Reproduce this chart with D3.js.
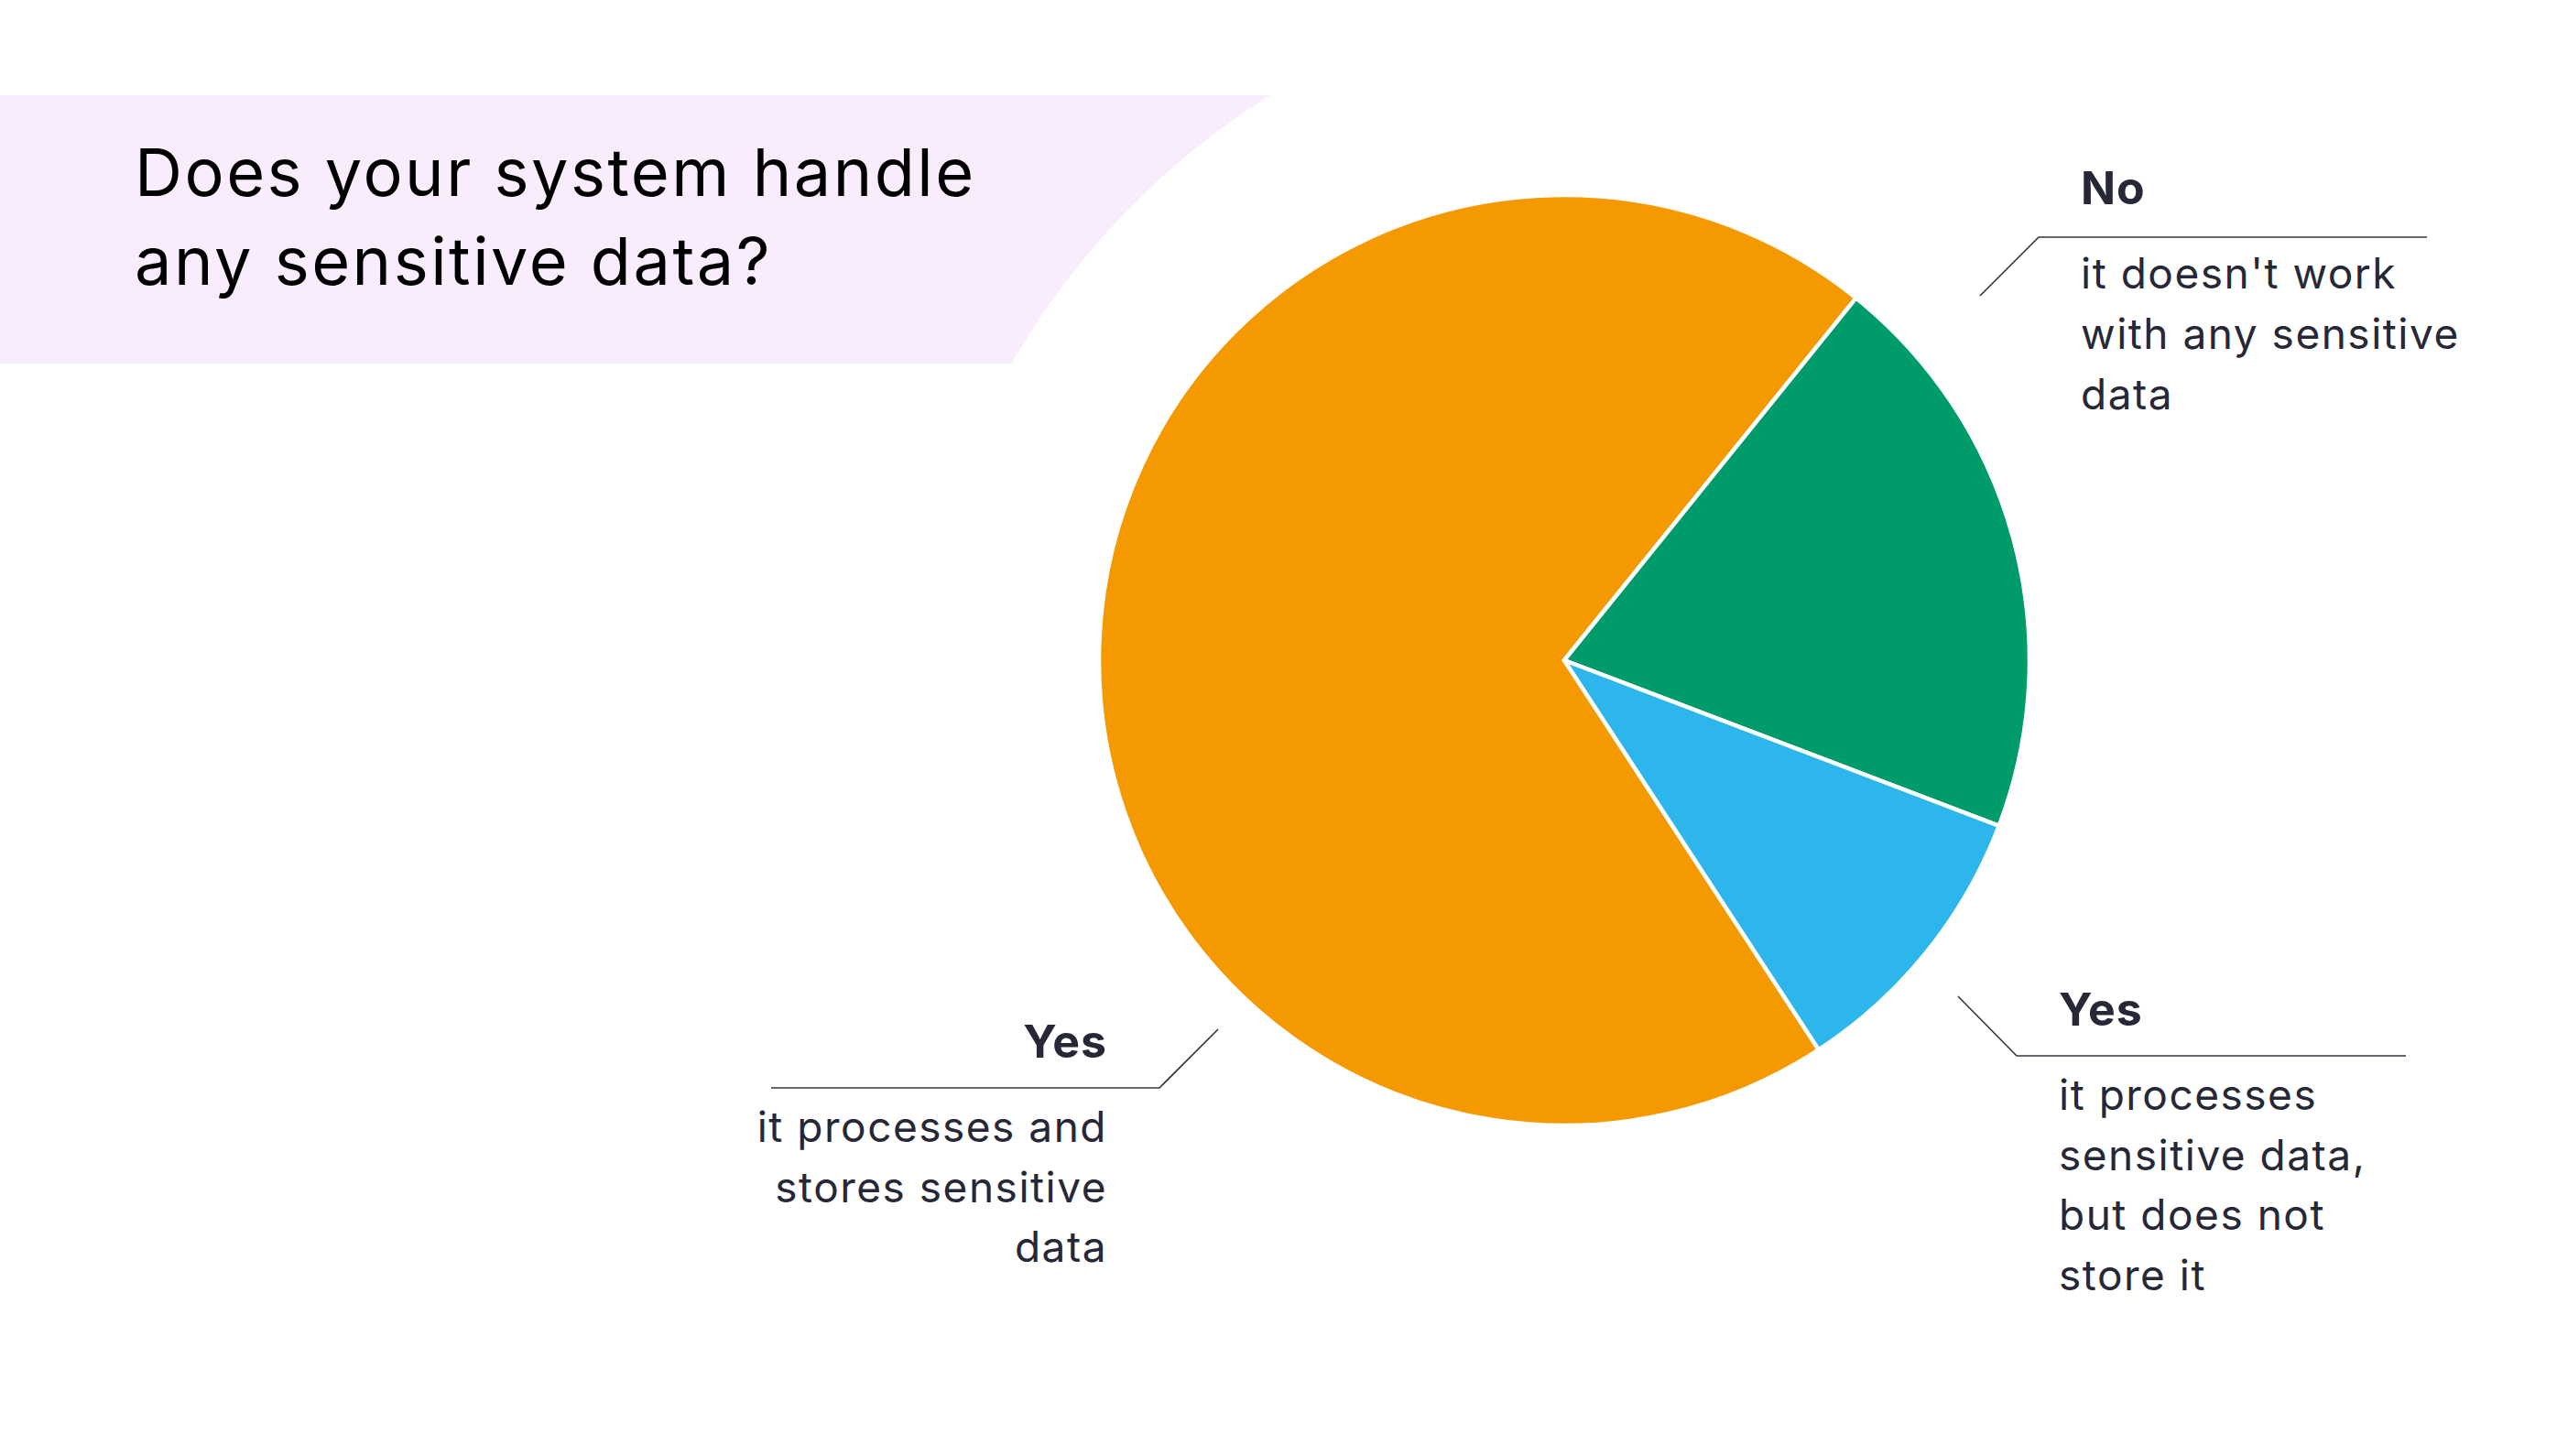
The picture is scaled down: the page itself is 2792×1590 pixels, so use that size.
<!DOCTYPE html>
<html>
<head>
<meta charset="utf-8">
<script src="https://cdn.jsdelivr.net/npm/d3@7"></script>
<style>
	html, body { margin: 0; padding: 0; background: #fff; }
	svg { display: block; }
</style>
</head>
<body>
<div id="chart"></div>
<script>
// chart data
var title = ["Does your system handle", "any sensitive data?"];
var answers = ["Yes", "No", "Yes"];
var shares = [70, 20, 10];
var notes = [
	["it processes and", "stores sensitive", "data"],
	["it doesn't work", "with any sensitive", "data"],
	["it processes", "sensitive data,", "but does not", "store it"]
];
var colours = ["#f49a00", "#009b6b", "#2cb6ec"];

var width = 2792, height = 1590;
var cx = 1708, cy = 721, radius = 508;
var font = "Inter, 'Open Sans', sans-serif";
var ink = "#272837";

var svg = d3.select("#chart")
	.append("svg")
	.attr("width", width)
	.attr("height", height);

// pink title band, its right side cut away by a big white disc
svg.append("rect")
	.attr("x", 0)
	.attr("y", 104)
	.attr("width", 1500)
	.attr("height", 293)
	.style("fill", "#f9ecfc");

svg.append("circle")
	.attr("cx", 1828)
	.attr("cy", 812)
	.attr("r", 834)
	.style("fill", "#fff");

svg.selectAll("text.title")
	.data(title)
	.enter()
	.append("text")
	.attr("class", "title")
	.attr("x", 147)
	.attr("y", function(d, i) { return 214 + i * 97; })
	.attr("font-family", font)
	.attr("font-size", "72px")
	.attr("letter-spacing", "2.5px")
	.style("fill", "#000")
	.text(function(d) { return d; });

// pie
var pie = d3.pie()
	.sort(null)
	.startAngle(146.85 * Math.PI / 180)
	.endAngle((146.85 + 360) * Math.PI / 180);

var arc = d3.arc()
	.innerRadius(0)
	.outerRadius(radius);

var g = svg.append("g")
	.attr("transform", "translate(" + cx + "," + cy + ")");

g.selectAll("path")
	.data(pie(shares))
	.enter()
	.append("path")
	.attr("d", arc)
	.style("fill", function(d, i) { return colours[i]; })
	.style("stroke", "#fff")
	.style("stroke-width", 4.5)
	.style("stroke-linejoin", "round");

// callouts: leader start, elbow, end of rule, text anchor
var callouts = [
	{ from: [1330, 1124], elbow: [1266, 1188], to: 842, textX: 1209, headY: 1155, bodyY: 1247, step: 65.5, anchor: "end" },
	{ from: [2162, 323], elbow: [2226, 259], to: 2650, textX: 2272, headY: 223, bodyY: 315, step: 66, anchor: "start" },
	{ from: [2138, 1088], elbow: [2202, 1153], to: 2627, textX: 2248, headY: 1120, bodyY: 1212, step: 65.5, anchor: "start" }
];

var labels = svg.selectAll("g.label")
	.data(callouts)
	.enter()
	.append("g")
	.attr("class", "label");

labels.append("path")
	.attr("d", function(d) {
		return "M" + d.from + "L" + d.elbow + "L" + d.to + "," + d.elbow[1];
	})
	.style("fill", "none")
	.style("stroke", "#33343f")
	.style("stroke-width", 1.6);

labels.append("text")
	.attr("x", function(d) { return d.textX; })
	.attr("y", function(d) { return d.headY; })
	.attr("font-family", font)
	.attr("font-size", "50px")
	.attr("font-weight", "bold")
	.attr("letter-spacing", "1px")
	.style("text-anchor", function(d) { return d.anchor; })
	.style("fill", ink)
	.text(function(d, i) { return answers[i]; });

labels.each(function(d, i) {
	d3.select(this).selectAll("text.note")
		.data(notes[i])
		.enter()
		.append("text")
		.attr("class", "note")
		.attr("x", d.textX)
		.attr("y", function(t, j) { return d.bodyY + j * d.step; })
		.attr("font-family", font)
		.attr("font-size", "46px")
		.attr("letter-spacing", "1.5px")
		.style("text-anchor", d.anchor)
		.style("fill", ink)
		.text(function(t) { return t; });
});
</script>
</body>
</html>
